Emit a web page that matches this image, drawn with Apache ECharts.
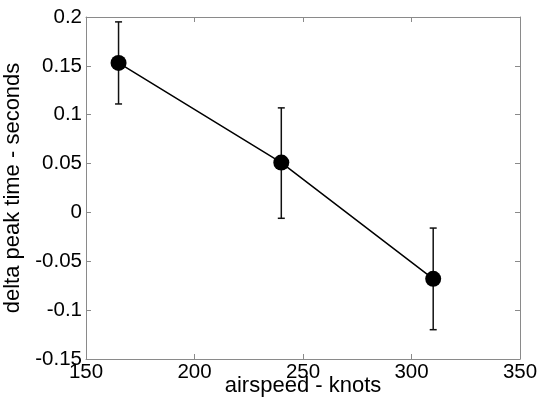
<!DOCTYPE html>
<html>
<head>
<meta charset="utf-8">
<script src="https://cdn.jsdelivr.net/npm/echarts@6/dist/echarts.min.js"></script>
<style>
html,body{margin:0;padding:0;background:#fff;}
#chart{width:542px;height:400px;}
</style>
</head>
<body>
<div id="chart"></div>
<script>
// Data
var airspeed = [165, 240, 310];
var deltaPeak = [0.153, 0.051, -0.068];
var errLow = [0.111, -0.006, -0.120];
var errHigh = [0.195, 0.107, -0.016];
var xTicks = [150, 200, 250, 300, 350];
var yTicks = [-0.15, -0.1, -0.05, 0, 0.05, 0.1, 0.15, 0.2];
var xName = 'airspeed - knots';
var yName = 'delta peak time - seconds';

var FONT = 'Liberation Sans, Helvetica, Arial, sans-serif';
var AXIS_COLOR = '#8a8a8a';

var chart = echarts.init(document.getElementById('chart'), null, {renderer: 'canvas'});

var lineData = airspeed.map(function (x, i) { return [x, deltaPeak[i]]; });
var errData = airspeed.map(function (x, i) { return [x, errLow[i], errHigh[i]]; });

function fmtY(v) {
  var r = Math.round(v * 100) / 100;
  return String(r);
}

var commonAxisLine = {show: true, onZero: false, lineStyle: {color: AXIS_COLOR, width: 1}};
var commonTick = {show: true, inside: true, length: 5, lineStyle: {color: AXIS_COLOR, width: 1}};

var option = {
  animation: false,
  backgroundColor: '#ffffff',
  grid: {left: 86, right: 22, top: 17, bottom: 41, containLabel: false, outerBoundsMode: 'none'},
  xAxis: [{
    type: 'value', min: 150, max: 350, interval: 50, position: 'bottom',
    axisLine: commonAxisLine, axisTick: commonTick, splitLine: {show: false},
    axisLabel: {show: true, color: '#000', fontSize: 20.5, fontFamily: FONT, margin: 3,
      formatter: function (v) { return xTicks.indexOf(v) >= 0 ? String(v) : ''; }},
    name: xName, nameLocation: 'middle', nameGap: 16, nameMoveOverlap: false,
    nameTextStyle: {color: '#000', fontSize: 22, fontFamily: FONT}
  }, {
    type: 'value', min: 150, max: 350, interval: 50, position: 'top',
    axisLine: commonAxisLine, axisTick: commonTick, splitLine: {show: false},
    axisLabel: {show: false}
  }],
  yAxis: [{
    type: 'value', min: -0.15, max: 0.2, interval: 0.05, position: 'left',
    axisLine: commonAxisLine, axisTick: commonTick, splitLine: {show: false},
    axisLabel: {show: true, color: '#000', fontSize: 20.5, fontFamily: FONT, margin: 4,
      formatter: function (v) { return fmtY(v); }},
    name: yName, nameLocation: 'middle', nameGap: 62, nameRotate: 90, nameMoveOverlap: false,
    nameTextStyle: {color: '#000', fontSize: 22, fontFamily: FONT}
  }, {
    type: 'value', min: -0.15, max: 0.2, interval: 0.05, position: 'right',
    axisLine: commonAxisLine, axisTick: commonTick, splitLine: {show: false},
    axisLabel: {show: false}
  }],
  series: [{
    type: 'custom',
    xAxisIndex: 0, yAxisIndex: 0,
    data: errData,
    z: 2,
    renderItem: function (params, api) {
      var x = api.value(0);
      var lo = api.coord([x, api.value(1)]);
      var hi = api.coord([x, api.value(2)]);
      var hw = 3.5;
      var st = {stroke: '#111', lineWidth: 1.5};
      return {
        type: 'group',
        children: [
          {type: 'line', shape: {x1: lo[0], y1: lo[1], x2: hi[0], y2: hi[1]}, style: st},
          {type: 'line', shape: {x1: lo[0] - hw, y1: lo[1], x2: lo[0] + hw, y2: lo[1]}, style: st},
          {type: 'line', shape: {x1: hi[0] - hw, y1: hi[1], x2: hi[0] + hw, y2: hi[1]}, style: st}
        ]
      };
    }
  }, {
    type: 'line',
    xAxisIndex: 0, yAxisIndex: 0,
    data: lineData,
    z: 3,
    symbol: 'circle', symbolSize: 16,
    lineStyle: {color: '#000', width: 1.5},
    itemStyle: {color: '#000'}
  }]
};

chart.setOption(option);
</script>
</body>
</html>
